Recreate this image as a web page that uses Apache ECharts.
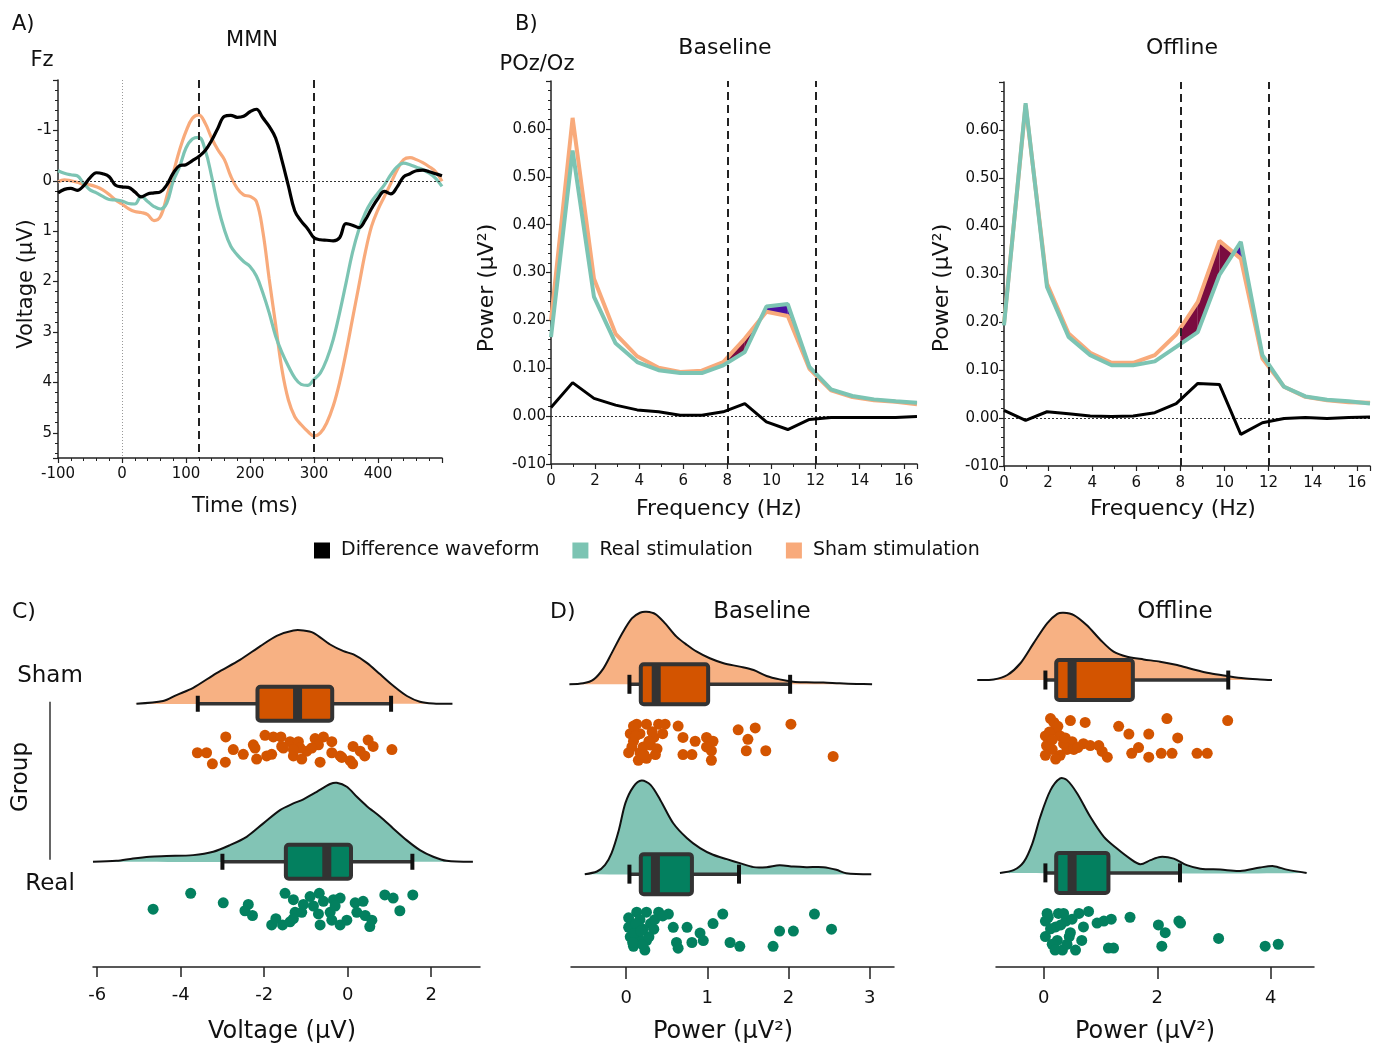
<!DOCTYPE html>
<html><head><meta charset="utf-8">
<script src="https://cdn.jsdelivr.net/npm/echarts@6/dist/echarts.min.js"></script>
<style>html,body{margin:0;padding:0;background:#fff}#c{width:1381px;height:1046px}</style>
</head><body><div id="c"></div><script>
// ---------- Panel A: MMN at Fz ----------
const mmnTime = [-100,-90,-80,-70,-60,-50,-40,-30,-20,-10,0,10,20,30,40,50,60,70,80,90,100,110,120,130,140,150,160,170,180,190,200,210,220,230,240,250,260,270,280,290,300,310,320,330,340,350,360,370,380,390,400,410,420,430,440,450,460,470,480,490,500];
const mmnDiff = [0.24,0.17,0.15,0.19,0.10,-0.06,-0.16,-0.14,-0.08,0.09,0.12,0.13,0.22,0.32,0.26,0.24,0.22,0.08,-0.15,-0.30,-0.32,-0.40,-0.48,-0.60,-0.80,-1.05,-1.28,-1.30,-1.26,-1.28,-1.37,-1.42,-1.25,-1.08,-0.85,-0.40,0.10,0.60,0.80,0.95,1.13,1.17,1.18,1.19,1.13,0.85,0.88,0.93,0.78,0.55,0.35,0.21,0.26,0.12,-0.08,-0.14,-0.20,-0.21,-0.18,-0.14,-0.10];
const mmnReal = [-0.20,-0.15,-0.12,-0.10,0.05,0.18,0.24,0.31,0.37,0.38,0.40,0.45,0.46,0.31,0.41,0.51,0.56,0.44,0.01,-0.28,-0.65,-0.83,-0.86,-0.61,-0.09,0.51,0.97,1.30,1.47,1.60,1.70,1.89,2.22,2.62,3.08,3.41,3.68,3.91,4.04,4.06,3.94,3.81,3.54,3.15,2.62,2.03,1.43,0.97,0.64,0.41,0.24,0.08,-0.12,-0.28,-0.35,-0.32,-0.27,-0.22,-0.15,-0.05,0.11];
const mmnSham = [0.02,-0.02,0.00,0.03,0.07,0.08,0.12,0.18,0.27,0.38,0.46,0.55,0.61,0.63,0.67,0.79,0.71,0.31,-0.15,-0.61,-0.98,-1.24,-1.31,-1.14,-0.85,-0.61,-0.42,-0.09,0.15,0.28,0.31,0.41,1.00,1.95,2.85,3.75,4.35,4.68,4.84,4.97,5.06,5.00,4.80,4.47,4.00,3.41,2.75,2.09,1.43,0.90,0.57,0.31,0.05,-0.22,-0.42,-0.46,-0.42,-0.36,-0.28,-0.18,0.01];
const mmnWindow = [120, 300];

// ---------- Panel B: spectra at POz/Oz ----------
const freqHz = [0,0.98,1.95,2.93,3.91,4.88,5.86,6.84,7.81,8.79,9.77,10.74,11.72,12.70,13.67,14.65,15.63,16.60];
const baseSham = [0.200,0.623,0.287,0.172,0.125,0.101,0.092,0.095,0.113,0.162,0.218,0.209,0.099,0.054,0.040,0.033,0.030,0.025];
const baseReal = [0.165,0.555,0.249,0.152,0.113,0.096,0.090,0.090,0.106,0.134,0.229,0.234,0.103,0.056,0.042,0.035,0.031,0.028];
const baseDiff = [0.018,0.070,0.037,0.023,0.013,0.009,0.002,0.002,0.009,0.026,-0.012,-0.028,-0.007,-0.003,-0.003,-0.003,-0.003,-0.001];
const offSham = [0.197,0.652,0.280,0.176,0.136,0.115,0.115,0.131,0.174,0.242,0.369,0.332,0.124,0.065,0.044,0.037,0.033,0.032];
const offReal = [0.193,0.656,0.273,0.169,0.131,0.110,0.110,0.118,0.148,0.179,0.298,0.367,0.131,0.065,0.045,0.038,0.035,0.030];
const offDiff = [0.016,-0.005,0.013,0.009,0.004,0.003,0.004,0.011,0.030,0.072,0.070,-0.034,-0.010,-0.001,0.001,-0.001,0.001,0.002];
const alphaBand = [8, 12];
const powerTicks = [-0.1,0,0.1,0.2,0.3,0.4,0.5,0.6];
const powerTickLabels = ['-010','0.00','0.10','0.20','0.30','0.40','0.50','0.60'];

// ---------- Panel C: MMN amplitude raincloud ----------
const cShamDensX = [-5.06,-4.42,-4.10,-3.70,-3.14,-2.58,-2.10,-1.70,-1.30,-1.06,-0.82,-0.42,-0.10,0.14,0.46,0.78,1.10,1.42,1.73,2.05,2.51];
const cShamDensH = [0,0.017,0.055,0.101,0.194,0.278,0.363,0.430,0.464,0.464,0.449,0.375,0.333,0.312,0.259,0.186,0.112,0.049,0.013,0.002,0];
const cRealDensX = [-6.10,-5.54,-5.14,-4.74,-4.34,-3.70,-3.22,-2.82,-2.42,-2.02,-1.62,-1.30,-1.06,-0.74,-0.42,-0.26,-0.02,0.22,0.46,0.78,1.09,1.41,1.73,2.05,2.37,3.00];
const cRealDensH = [0,0.006,0.021,0.032,0.036,0.042,0.063,0.105,0.158,0.243,0.327,0.369,0.395,0.443,0.492,0.500,0.475,0.411,0.352,0.285,0.211,0.137,0.074,0.032,0.006,0];
const cShamBox = [-2.16,-1.20,-0.37,-3.59,1.04]; // q1, median, q3, whisker low, whisker high
const cRealBox = [-1.48,-0.50,0.08,-3.00,1.55];
const cShamX = [-2.92,-1.98,-1.78,-1.60,-1.38,-1.18,-0.78,-0.58,-0.38,0.49,-3.60,-3.38,-3.24,-2.93,-2.74,-2.50,-2.26,-2.22,-2.18,-1.94,-1.82,-1.58,-1.30,-1.10,-0.98,-0.66,-0.70,-0.18,0.06,0.13,0.30,0.41,0.61,1.06,0.12,-0.14,-1.54,-1.14,-0.86,-1.30,-0.38];
const cShamJit = [-0.21,-0.20,-0.21,-0.21,-0.24,-0.24,-0.22,-0.21,-0.24,-0.23,-0.31,-0.31,-0.38,-0.37,-0.29,-0.32,-0.26,-0.28,-0.35,-0.33,-0.32,-0.27,-0.33,-0.35,-0.30,-0.37,-0.26,-0.33,-0.36,-0.27,-0.30,-0.33,-0.27,-0.29,-0.38,-0.34,-0.28,-0.28,-0.28,-0.29,-0.31];
const cRealX = [-4.66,-3.76,-2.98,-2.38,-2.46,-2.28,-1.82,-1.72,-1.56,-1.50,-1.38,-1.30,-1.26,-1.10,-1.06,-0.90,-0.82,-0.68,-0.66,-0.58,-0.42,-0.38,-0.34,-0.18,-0.18,-0.02,0.18,0.22,0.37,0.42,0.53,0.58,0.89,1.09,1.25,1.56,-0.30,-0.70,-1.30];
const cRealJit = [-0.30,-0.20,-0.26,-0.27,-0.31,-0.34,-0.40,-0.36,-0.40,-0.20,-0.38,-0.24,-0.32,-0.32,-0.27,-0.22,-0.28,-0.20,-0.40,-0.25,-0.32,-0.37,-0.24,-0.23,-0.40,-0.37,-0.26,-0.32,-0.25,-0.34,-0.41,-0.37,-0.21,-0.23,-0.31,-0.21,-0.28,-0.33,-0.36];
const cTicks = [-6,-4,-2,0,2];

// ---------- Panel D: alpha power raincloud, Baseline ----------
const dbShamDensX = [-0.70,-0.53,-0.40,-0.28,-0.18,-0.05,0.07,0.17,0.25,0.36,0.48,0.62,0.75,0.87,1.03,1.20,1.40,1.57,1.73,1.89,2.06,2.22,2.43,2.63,2.84,3.03];
const dbShamDensH = [0,0.005,0.026,0.084,0.163,0.268,0.347,0.377,0.382,0.370,0.321,0.251,0.207,0.172,0.137,0.111,0.093,0.075,0.044,0.026,0.014,0.011,0.009,0.005,0.002,0];
const dbRealDensX = [-0.51,-0.36,-0.26,-0.18,-0.09,-0.01,0.09,0.19,0.30,0.42,0.58,0.75,0.91,1.07,1.24,1.40,1.57,1.73,1.89,2.06,2.22,2.43,2.59,2.71,3.02];
const dbRealDensH = [0,0.014,0.049,0.111,0.233,0.374,0.461,0.493,0.470,0.391,0.268,0.189,0.137,0.102,0.079,0.058,0.037,0.037,0.047,0.040,0.037,0.037,0.023,0.005,0];
const dbShamBox = [0.18,0.37,1.01,0.04,2.02];
const dbRealBox = [0.18,0.36,0.81,0.04,1.39];
const dbShamX = [0.13,0.25,0.40,0.48,0.64,0.05,0.17,0.34,0.70,0.85,0.99,1.07,0.09,0.30,0.38,0.17,0.03,0.25,0.15,0.36,0.70,0.81,1.05,1.05,1.38,1.59,1.50,1.48,1.72,2.03,2.55,0.09,0.21,0.99,0.07,0.12,0.22,0.32,0.45,0.28];
const dbShamJit = [-0.21,-0.21,-0.21,-0.21,-0.22,-0.26,-0.26,-0.28,-0.28,-0.30,-0.28,-0.30,-0.30,-0.32,-0.34,-0.36,-0.36,-0.39,-0.40,-0.37,-0.37,-0.37,-0.35,-0.40,-0.24,-0.23,-0.29,-0.35,-0.35,-0.21,-0.38,-0.22,-0.33,-0.33,-0.33,-0.27,-0.37,-0.25,-0.26,-0.30];
const dbRealX = [0.13,0.25,0.40,0.52,0.03,0.17,0.30,0.03,0.21,0.58,0.75,1.07,1.19,0.05,0.25,0.09,0.23,0.62,0.81,0.64,0.91,0.95,1.28,1.40,1.81,1.89,2.06,2.32,2.53,0.17,0.34,0.10,0.20,0.35,0.12,0.28,0.45,0.18,0.08];
const dbRealJit = [-0.20,-0.20,-0.20,-0.21,-0.23,-0.24,-0.26,-0.28,-0.29,-0.28,-0.28,-0.26,-0.21,-0.33,-0.35,-0.38,-0.40,-0.36,-0.36,-0.39,-0.31,-0.35,-0.36,-0.38,-0.38,-0.30,-0.30,-0.21,-0.29,-0.35,-0.29,-0.31,-0.37,-0.24,-0.26,-0.33,-0.22,-0.30,-0.36];
const dbTicks = [0,1,2,3];

// ---------- Panel D: alpha power raincloud, Offline ----------
const doShamDensX = [-1.17,-0.88,-0.64,-0.41,-0.18,0.06,0.24,0.35,0.53,0.76,1.00,1.23,1.47,1.76,2.05,2.35,2.64,2.93,3.23,3.52,3.81,4.02];
const doShamDensH = [0,0.003,0.026,0.087,0.190,0.294,0.343,0.349,0.337,0.284,0.208,0.147,0.121,0.107,0.095,0.078,0.055,0.035,0.021,0.009,0.003,0];
const doRealDensX = [-0.77,-0.53,-0.35,-0.20,-0.06,0.12,0.29,0.41,0.59,0.82,1.06,1.29,1.52,1.70,1.88,2.05,2.29,2.52,2.76,3.11,3.46,3.81,4.05,4.28,4.63];
const doRealDensH = [0,0.014,0.057,0.152,0.291,0.429,0.490,0.481,0.412,0.291,0.187,0.126,0.074,0.045,0.066,0.083,0.074,0.040,0.022,0.017,0.010,0.028,0.035,0.017,0];
const doShamBox = [0.22,0.50,1.57,0.03,3.25];
const doRealBox = [0.22,0.50,1.14,0.03,2.40];
const doShamX = [0.12,0.18,0.47,0.73,1.32,1.50,1.85,2.17,2.36,0.03,0.21,0.29,0.50,0.70,0.82,0.97,1.03,1.12,0.05,0.15,0.29,0.41,0.53,0.21,0.03,1.55,1.67,1.85,2.07,2.26,2.70,2.88,3.24,0.35,0.09,0.25,0.10,0.38,0.60,0.15];
const doShamJit = [-0.20,-0.22,-0.21,-0.22,-0.24,-0.28,-0.28,-0.20,-0.30,-0.29,-0.26,-0.29,-0.32,-0.33,-0.34,-0.34,-0.37,-0.40,-0.34,-0.36,-0.39,-0.36,-0.36,-0.41,-0.39,-0.38,-0.35,-0.40,-0.38,-0.38,-0.38,-0.38,-0.21,-0.33,-0.33,-0.24,-0.27,-0.30,-0.35,-0.31];
const doRealX = [0.06,0.26,0.62,0.79,0.39,0.03,0.21,0.94,1.06,1.19,1.52,0.03,0.24,0.47,0.67,0.33,0.56,1.14,1.23,2.02,2.14,2.38,2.41,2.08,3.08,3.90,4.13,0.41,0.18,0.12,0.30,0.50,0.15,0.45,0.08,0.70,0.35,0.20];
const doRealJit = [-0.21,-0.21,-0.21,-0.20,-0.25,-0.25,-0.28,-0.26,-0.25,-0.24,-0.23,-0.33,-0.35,-0.31,-0.35,-0.40,-0.40,-0.39,-0.39,-0.27,-0.31,-0.25,-0.26,-0.38,-0.34,-0.38,-0.37,-0.37,-0.37,-0.29,-0.27,-0.24,-0.37,-0.33,-0.23,-0.28,-0.21,-0.40];
const doTicks = [0,2,4];

// ---------- styling ----------
const FONT = 'DejaVu Sans';
const TEAL = '#7cc4b3', ORANGE = '#f8aa7b', BLACK = '#000000';
const TEAL_FILL = '#82c4b5', ORANGE_FILL = '#f7b183';
const TEAL_DARK = '#03805f', ORANGE_DARK = '#d35400';
const MAROON = '#7a0c40', INDIGO = '#4a10a0';
const ROW_REAL = 0, ROW_SHAM = 1;

const pairs = (xs, ys) => xs.map((x, i) => [x, ys[i]]);
const rowPairs = (xs, ys, row) => xs.map((x, i) => [x, row + ys[i]]);

function interp(xs, ys, x) {
  for (let i = 0; i < xs.length - 1; i++) {
    if (x >= xs[i] && x <= xs[i + 1]) {
      const t = (x - xs[i]) / (xs[i + 1] - xs[i]);
      return ys[i] + t * (ys[i + 1] - ys[i]);
    }
  }
  return ys[ys.length - 1];
}

function bandSeries(gi, sham, real) {
  return {
    type: 'custom', xAxisIndex: gi, yAxisIndex: gi, z: 1, silent: true,
    data: [[alphaBand[0], 0.1]],
    renderItem: (params, api) => {
      const lo = alphaBand[0], hi = alphaBand[1];
      const xs = [lo].concat(freqHz.filter(f => f > lo && f < hi), [hi]);
      const children = [];
      const poly = (pts, col) => children.push({ type: 'polygon', shape: { points: pts.map(p => api.coord(p)) }, style: { fill: col } });
      for (let i = 0; i < xs.length - 1; i++) {
        const x0 = xs[i], x1 = xs[i + 1];
        const s0 = interp(freqHz, sham, x0), s1 = interp(freqHz, sham, x1);
        const r0 = interp(freqHz, real, x0), r1 = interp(freqHz, real, x1);
        const d0 = s0 - r0, d1 = s1 - r1;
        if (d0 * d1 >= 0) {
          poly([[x0, s0], [x1, s1], [x1, r1], [x0, r0]], (d0 + d1) >= 0 ? MAROON : INDIGO);
        } else {
          const t = d0 / (d0 - d1);
          const xc = x0 + t * (x1 - x0), yc = s0 + t * (s1 - s0);
          poly([[x0, s0], [xc, yc], [x0, r0]], d0 > 0 ? MAROON : INDIGO);
          poly([[xc, yc], [x1, s1], [x1, r1]], d1 > 0 ? MAROON : INDIGO);
        }
      }
      return { type: 'group', children };
    }
  };
}

function lineSeries(name, gi, xs, ys, color, width, z, smooth, extra) {
  return Object.assign({
    name, type: 'line', xAxisIndex: gi, yAxisIndex: gi, data: pairs(xs, ys),
    symbol: 'none', smooth: smooth, z: z,
    lineStyle: { color, width }, itemStyle: { color }
  }, extra || {});
}

function markLines(items) {
  return {
    silent: true, symbol: ['none', 'none'], label: { show: false }, animation: false,
    data: items
  };
}

// half-violin density drawn as a custom polygon so it may run past the axis ends
function densSeries(gi, xs, hs, row, fill) {
  return {
    type: 'custom', xAxisIndex: gi, yAxisIndex: gi, z: 2, silent: true, clip: false,
    data: [[xs[Math.floor(xs.length / 2)], row]],
    renderItem: (params, api) => {
      const pts = rowPairs(xs, hs, row).map(p => api.coord(p));
      return {
        type: 'group', children: [
          { type: 'polygon', shape: { points: pts, smooth: 0.3 }, style: { fill, stroke: null } },
          { type: 'polyline', shape: { points: pts, smooth: 0.3 }, style: { fill: null, stroke: '#111', lineWidth: 2 } }
        ]
      };
    }
  };
}

function scatterSeries(gi, xs, js, row, color) {
  return {
    type: 'scatter', xAxisIndex: gi, yAxisIndex: gi, data: rowPairs(xs, js, row),
    symbolSize: 11, itemStyle: { color, opacity: 1 }, z: 3, silent: true, clip: false
  };
}

function boxSeries(gi, boxes, rows, fills, boxH, capH) {
  return {
    type: 'custom', xAxisIndex: gi, yAxisIndex: gi, z: 4, silent: true, clip: false,
    data: boxes.map((b, i) => b.concat([rows[i]])),
    encode: { x: [0, 1, 2, 3, 4], y: 5 },
    renderItem: (params, api) => {
      const r = api.value(5);
      const P = v => api.coord([v, r]);
      const pQ1 = P(api.value(0)), pMed = P(api.value(1)), pQ3 = P(api.value(2));
      const pLo = P(api.value(3)), pHi = P(api.value(4));
      const y = pQ1[1];
      const fill = fills[params.dataIndex];
      return {
        type: 'group', children: [
          { type: 'line', shape: { x1: pLo[0], y1: y, x2: pHi[0], y2: y }, style: { stroke: '#333', lineWidth: 3.5 } },
          { type: 'line', shape: { x1: pLo[0], y1: y - capH / 2, x2: pLo[0], y2: y + capH / 2 }, style: { stroke: '#111', lineWidth: 4 } },
          { type: 'line', shape: { x1: pHi[0], y1: y - capH / 2, x2: pHi[0], y2: y + capH / 2 }, style: { stroke: '#111', lineWidth: 4 } },
          { type: 'rect', shape: { x: pQ1[0], y: y - boxH / 2, width: pQ3[0] - pQ1[0], height: boxH, r: 3 }, style: { fill, stroke: '#333', lineWidth: 4 } },
          { type: 'rect', shape: { x: pMed[0] - 4.5, y: y - boxH / 2, width: 9, height: boxH }, style: { fill: '#333' } }
        ]
      };
    }
  };
}

const tickLbl = { color: '#111', fontSize: 15, fontFamily: FONT };

function isInt(v) { return Math.abs(v - Math.round(v)) < 1e-6; }

const grids = [
  { left: 58, top: 80, width: 384, height: 378 },     // A
  { left: 551, top: 81, width: 366, height: 383 },    // B baseline
  { left: 1004, top: 82, width: 366, height: 384 },   // B offline
  { left: 93, top: 608, width: 387, height: 359 },    // C
  { left: 571, top: 600, width: 323, height: 367 },   // D baseline
  { left: 996, top: 600, width: 318, height: 367 }    // D offline
];

function freqXAxis(gi) {
  return {
    gridIndex: gi, type: 'value', min: 0, max: 16.6, interval: 2, position: 'bottom',
    axisLine: { onZero: false, lineStyle: { color: '#222', width: 1.5 } }, splitLine: { show: false },
    axisTick: { length: 5, lineStyle: { color: '#222', width: 1.2 } },
    minorTick: { show: true, splitNumber: 2, length: 3, lineStyle: { color: '#222' } },
    axisLabel: Object.assign({ margin: 10, formatter: v => (isInt(v) && Math.round(v) % 2 === 0) ? String(Math.round(v)) : '' }, tickLbl)
  };
}
function powerYAxis(gi) {
  return {
    gridIndex: gi, type: 'value', min: -0.1, max: 0.7, interval: 0.1, position: 'left',
    axisLine: { show: true, onZero: false, lineStyle: { color: '#222', width: 1.5 } }, splitLine: { show: false },
    axisTick: { show: true, length: 5, lineStyle: { color: '#222', width: 1.2 } },
    minorTick: { show: true, splitNumber: 5, length: 3, lineStyle: { color: '#222' } },
    axisLabel: Object.assign({ margin: 5, formatter: v => {
      const r = Math.round(v * 100) / 100;
      const idx = powerTicks.findIndex(t => Math.abs(t - r) < 1e-6);
      return idx >= 0 ? powerTickLabels[idx] : '';
    } }, tickLbl)
  };
}
function rainXAxis(gi, min, max, ticks, margin, tlen) {
  return {
    gridIndex: gi, type: 'value', min, max, position: 'bottom',
    axisLine: { onZero: false, lineStyle: { color: '#222', width: 1.5 } }, splitLine: { show: false },
    axisTick: { show: true, length: tlen, customValues: ticks, lineStyle: { color: '#222', width: 1.5 } },
    axisLabel: { customValues: ticks, margin, color: '#111', fontSize: 18, fontFamily: FONT }
  };
}
function rainYAxis(gi, min, max) {
  return { gridIndex: gi, type: 'value', min, max, show: false, splitLine: { show: false }, axisLine: { onZero: false } };
}

const xAxis = [
  {
    gridIndex: 0, type: 'value', min: -100, max: 500, interval: 100, position: 'bottom',
    axisLine: { onZero: false, lineStyle: { color: '#222', width: 1.5 } }, splitLine: { show: false },
    axisTick: { length: 5, lineStyle: { color: '#222', width: 1.2 } },
    minorTick: { show: true, splitNumber: 5, length: 3, lineStyle: { color: '#222' } },
    axisLabel: Object.assign({ margin: 9, formatter: v => (v >= 500 ? '' : String(v)) }, tickLbl)
  },
  freqXAxis(1), freqXAxis(2),
  rainXAxis(3, -6.1, 3.17, cTicks, 19, 10),
  rainXAxis(4, -0.68, 3.30, dbTicks, 22, 12),
  rainXAxis(5, -0.84, 4.76, doTicks, 22, 12)
];
const yAxis = [
  {
    gridIndex: 0, type: 'value', min: -2, max: 5.5, interval: 1, inverse: true, position: 'left',
    axisLine: { show: true, onZero: false, lineStyle: { color: '#222', width: 1.5 } }, splitLine: { show: false },
    axisTick: { show: true, length: 5, lineStyle: { color: '#222', width: 1.2 } },
    minorTick: { show: true, splitNumber: 5, length: 3, lineStyle: { color: '#222' } },
    axisLabel: Object.assign({ margin: 6, formatter: v => (isInt(v) && v > -2 && v <= 5) ? String(Math.round(v)) : '' }, tickLbl)
  },
  powerYAxis(1), powerYAxis(2),
  rainYAxis(3, -0.666, 1.606),
  rainYAxis(4, -0.489, 1.444),
  rainYAxis(5, -0.488, 1.415)
];

const dashed = { type: [8, 5], color: '#222', width: 2 };
const dotted = { type: [2, 2], color: '#333', width: 1 };
const dottedGray = { type: [1, 2], color: '#999', width: 1 };

const series = [
  // A
  lineSeries('Sham stimulation', 0, mmnTime, mmnSham, ORANGE, 3.2, 3, 0.4),
  lineSeries('Real stimulation', 0, mmnTime, mmnReal, TEAL, 3.2, 4, 0.4),
  lineSeries('Difference waveform', 0, mmnTime, mmnDiff, BLACK, 3.2, 5, 0.4, {
    markLine: markLines([
      { yAxis: 0, lineStyle: dotted },
      { xAxis: 0, lineStyle: dottedGray },
      { xAxis: mmnWindow[0], lineStyle: dashed },
      { xAxis: mmnWindow[1], lineStyle: dashed }
    ])
  }),
  // B baseline
  bandSeries(1, baseSham, baseReal),
  lineSeries('Sham stimulation', 1, freqHz, baseSham, ORANGE, 4, 3, false),
  lineSeries('Real stimulation', 1, freqHz, baseReal, TEAL, 4, 4, false),
  lineSeries('Difference waveform', 1, freqHz, baseDiff, BLACK, 3, 5, false, {
    markLine: markLines([
      { yAxis: 0, lineStyle: dotted },
      { xAxis: alphaBand[0], lineStyle: dashed },
      { xAxis: alphaBand[1], lineStyle: dashed }
    ])
  }),
  // B offline
  bandSeries(2, offSham, offReal),
  lineSeries('Sham stimulation', 2, freqHz, offSham, ORANGE, 4, 3, false),
  lineSeries('Real stimulation', 2, freqHz, offReal, TEAL, 4, 4, false),
  lineSeries('Difference waveform', 2, freqHz, offDiff, BLACK, 3, 5, false, {
    markLine: markLines([
      { yAxis: 0, lineStyle: dotted },
      { xAxis: alphaBand[0], lineStyle: dashed },
      { xAxis: alphaBand[1], lineStyle: dashed }
    ])
  }),
  // C
  densSeries(3, cShamDensX, cShamDensH, ROW_SHAM, ORANGE_FILL),
  densSeries(3, cRealDensX, cRealDensH, ROW_REAL, TEAL_FILL),
  scatterSeries(3, cShamX, cShamJit, ROW_SHAM, ORANGE_DARK),
  scatterSeries(3, cRealX, cRealJit, ROW_REAL, TEAL_DARK),
  boxSeries(3, [cShamBox, cRealBox], [ROW_SHAM, ROW_REAL], [ORANGE_DARK, TEAL_DARK], 34, 16),
  // D baseline
  densSeries(4, dbShamDensX, dbShamDensH, ROW_SHAM, ORANGE_FILL),
  densSeries(4, dbRealDensX, dbRealDensH, ROW_REAL, TEAL_FILL),
  scatterSeries(4, dbShamX, dbShamJit, ROW_SHAM, ORANGE_DARK),
  scatterSeries(4, dbRealX, dbRealJit, ROW_REAL, TEAL_DARK),
  boxSeries(4, [dbShamBox, dbRealBox], [ROW_SHAM, ROW_REAL], [ORANGE_DARK, TEAL_DARK], 40, 19),
  // D offline
  densSeries(5, doShamDensX, doShamDensH, ROW_SHAM, ORANGE_FILL),
  densSeries(5, doRealDensX, doRealDensH, ROW_REAL, TEAL_FILL),
  scatterSeries(5, doShamX, doShamJit, ROW_SHAM, ORANGE_DARK),
  scatterSeries(5, doRealX, doRealJit, ROW_REAL, TEAL_DARK),
  boxSeries(5, [doShamBox, doRealBox], [ROW_SHAM, ROW_REAL], [ORANGE_DARK, TEAL_DARK], 40, 19)
];

function txt(text, x, y, size, opts) {
  opts = opts || {};
  const align = opts.align || 'center';
  return {
    type: 'text', x, y, rotation: opts.rot || 0, silent: true, z: 100,
    style: {
      text, x: 0, y: 0, fill: '#111', fontSize: size, fontFamily: FONT,
      align, verticalAlign: 'middle', textAlign: align, textVerticalAlign: 'middle'
    }
  };
}
const R90 = Math.PI / 2;
const graphic = [
  txt('A)', 12, 25, 21, { align: 'left' }),
  txt('MMN', 252, 41, 21),
  txt('Fz', 42, 61, 21),
  txt('Voltage (µV)', 27, 284, 21, { rot: R90 }),
  txt('Time (ms)', 245, 507, 21),
  txt('B)', 515, 25, 21, { align: 'left' }),
  txt('POz/Oz', 537, 65, 21),
  txt('Baseline', 725, 48, 22),
  txt('Offline', 1182, 48, 22),
  txt('Power (µV²)', 487, 288, 22, { rot: R90 }),
  txt('Power (µV²)', 942, 288, 22, { rot: R90 }),
  txt('Frequency (Hz)', 719, 509, 22),
  txt('Frequency (Hz)', 1173, 509, 22),
  txt('C)', 12, 612, 22, { align: 'left' }),
  txt('Group', 21, 777, 23, { rot: R90 }),
  txt('Sham', 50, 676, 23),
  txt('Real', 50, 884, 23),
  txt('Voltage (µV)', 282, 1032, 24),
  txt('D)', 550, 612, 22, { align: 'left' }),
  txt('Baseline', 762, 612, 23),
  txt('Offline', 1175, 612, 23),
  txt('Power (µV²)', 723, 1032, 24),
  txt('Power (µV²)', 1145, 1032, 24)
];

const chart = echarts.init(document.getElementById('c'), null, { renderer: 'canvas' });
chart.setOption({
  animation: false,
  backgroundColor: '#ffffff',
  textStyle: { fontFamily: FONT },
  legend: {
    data: ['Difference waveform', 'Real stimulation', 'Sham stimulation'],
    left: 314, top: 541, padding: 0, icon: 'rect', itemWidth: 16, itemHeight: 16, itemGap: 33,
    selectedMode: false,
    textStyle: { fontSize: 19, color: '#111', fontFamily: FONT, padding: [0, 0, 0, 6] }
  },
  grid: grids,
  xAxis, yAxis, series, graphic
});

// Group axis line in panel C spans from the Real row to the Sham row
const pSham = chart.convertToPixel({ gridIndex: 3 }, [0, ROW_SHAM]);
const pReal = chart.convertToPixel({ gridIndex: 3 }, [0, ROW_REAL]);
chart.setOption({
  graphic: graphic.concat([{
    type: 'line', silent: true, shape: { x1: 50, y1: pSham[1] - 2, x2: 50, y2: pReal[1] - 2 },
    style: { stroke: '#333', lineWidth: 1.5 }
  }])
});
</script></body></html>
